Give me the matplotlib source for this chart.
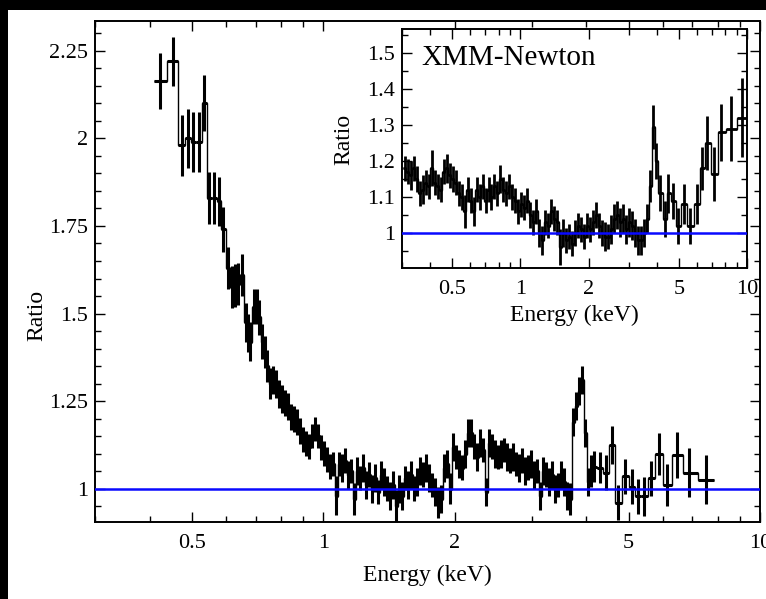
import numpy as np
import matplotlib.pyplot as plt
from matplotlib.ticker import FixedLocator, LogLocator, NullFormatter, MultipleLocator, FuncFormatter
from matplotlib.patches import Rectangle

plt.rcParams['font.family'] = ['Liberation Serif', 'DejaVu Serif']

# ---- main panel: ratio vs energy (keV) ----
main_energy = [
    0.4236, 0.4536, 0.4758, 0.4910, 0.5041, 0.5203, 0.5342, 0.5484, 0.5631, 0.5781,
    0.5904, 0.6063, 0.6193, 0.6291, 0.6392, 0.6528, 0.6667, 0.6738, 0.6808, 0.6953,
    0.7064, 0.7139, 0.7253, 0.7368, 0.7446, 0.7565, 0.7685, 0.7807,
    0.7931, 0.8057, 0.8186, 0.8316, 0.8448, 0.8583, 0.8719, 0.8858, 0.8999, 0.9143,
    0.9289, 0.9437, 0.9587, 0.9740, 0.9895, 1.0053, 1.0213, 1.0375, 1.0541, 1.0709,
    1.088, 1.105, 1.123, 1.141, 1.159, 1.177, 1.196, 1.215, 1.235, 1.254,
    1.274, 1.295, 1.315, 1.336, 1.357, 1.379, 1.401, 1.423, 1.446, 1.469,
    1.492, 1.516, 1.540, 1.565, 1.590, 1.615, 1.641, 1.667, 1.693, 1.720,
    1.748, 1.776, 1.804, 1.833, 1.862,
    1.892, 1.922, 1.953, 1.984, 2.015, 2.047, 2.080, 2.113, 2.147, 2.181,
    2.216, 2.251, 2.287, 2.323, 2.360, 2.398, 2.436, 2.475, 2.514, 2.554,
    2.595, 2.636, 2.678, 2.721, 2.764, 2.808, 2.853, 2.899, 2.945, 2.992,
    3.039, 3.088, 3.137, 3.187, 3.237, 3.289, 3.342, 3.395, 3.449, 3.504,
    3.560, 3.616, 3.674, 3.733, 3.793, 3.853, 3.914, 3.977, 4.040, 4.105,
    4.170, 4.304, 4.442, 4.585, 4.732, 4.911, 5.096, 5.259, 5.428, 5.630,
    5.873, 6.125, 6.458, 6.880, 7.521,
]
main_ratio = [
    2.165, 2.22, 1.98, 2.00, 1.99, 1.99, 2.10, 1.83, 1.83, 1.82,
    1.74, 1.63, 1.575, 1.58, 1.585, 1.61, 1.475, 1.445, 1.42, 1.52,
    1.52, 1.49, 1.42, 1.39, 1.35, 1.30, 1.31, 1.30,
    1.27, 1.255, 1.245, 1.235, 1.205, 1.20, 1.19, 1.165, 1.14, 1.13,
    1.12, 1.15, 1.17, 1.15, 1.117, 1.10, 1.083, 1.063, 1.07, 0.98,
    1.07, 1.06, 1.08, 1.04, 1.05, 0.97, 1.05, 1.03, 1.06, 1.01,
    1.04, 1.00, 1.03, 0.99, 1.04, 1.02, 1.00, 0.98, 1.01, 0.95,
    1.00, 0.98, 1.03, 1.01, 1.04, 1.00, 1.02, 1.05, 1.04, 1.06,
    1.03, 1.01, 0.99, 0.96, 0.97,
    1.06, 1.07, 1.00, 1.12, 1.09, 1.07, 1.06, 1.10, 1.16, 1.16,
    1.12, 1.09, 1.13, 1.11, 0.99, 1.13, 1.12, 1.10, 1.09, 1.10,
    1.11, 1.09, 1.08, 1.09, 1.07, 1.06, 1.08, 1.05, 1.06, 1.07,
    1.04, 1.05, 0.98, 1.05, 1.04, 1.02, 1.04, 1.00, 1.01, 1.04,
    1.02, 0.98, 0.97, 1.19, 1.235, 1.28, 1.31, 1.16, 1.02, 1.05,
    1.063, 1.06, 1.045, 1.125, 0.96, 1.035, 1.005, 0.978, 0.978, 1.03,
    1.10, 1.01, 1.097, 1.045, 1.026,
]
main_err = [
    0.08, 0.07, 0.086, 0.085, 0.085, 0.085, 0.08, 0.075, 0.075, 0.07,
    0.065, 0.06, 0.06, 0.06, 0.06, 0.06, 0.055, 0.055, 0.055, 0.05,
    0.05, 0.05, 0.05, 0.045, 0.045, 0.045, 0.04, 0.04,
    0.04, 0.04, 0.038, 0.038, 0.038, 0.037, 0.037, 0.036, 0.036, 0.036,
    0.035, 0.035, 0.035, 0.035, 0.035, 0.035, 0.035, 0.035, 0.035, 0.055,
    0.035, 0.04, 0.035, 0.04, 0.035, 0.045, 0.04, 0.035, 0.04, 0.04,
    0.035, 0.04, 0.04, 0.035, 0.04, 0.04, 0.035, 0.04, 0.04, 0.045,
    0.04, 0.04, 0.035, 0.04, 0.04, 0.035, 0.04, 0.04, 0.035, 0.04,
    0.04, 0.035, 0.04, 0.045, 0.04,
    0.04, 0.04, 0.045, 0.04, 0.035, 0.04, 0.035, 0.04, 0.04, 0.04,
    0.035, 0.04, 0.04, 0.035, 0.04, 0.04, 0.035, 0.04, 0.035, 0.04,
    0.035, 0.04, 0.035, 0.04, 0.035, 0.04, 0.035, 0.04, 0.035, 0.04,
    0.04, 0.035, 0.04, 0.04, 0.035, 0.04, 0.04, 0.04, 0.035, 0.04,
    0.04, 0.04, 0.045, 0.04, 0.04, 0.04, 0.04, 0.04, 0.04, 0.045,
    0.045, 0.045, 0.05, 0.055, 0.05, 0.05, 0.05, 0.05, 0.055, 0.05,
    0.06, 0.06, 0.065, 0.07, 0.07,
]

# ---- inset: XMM-Newton ratio ----
xmm_energy = [
    0.3083, 0.3178, 0.3277, 0.3378, 0.3482, 0.3590, 0.3701, 0.3815, 0.3933, 0.4055,
    0.4180, 0.4309, 0.4442, 0.4579, 0.4721, 0.4866, 0.5017, 0.5172, 0.5331, 0.5496,
    0.5666, 0.5841, 0.6021, 0.6207, 0.6399, 0.6596, 0.6800, 0.7010, 0.7227, 0.7450,
    0.7680, 0.7917, 0.8162, 0.8415, 0.8675, 0.8943, 0.9221, 0.9506, 0.9799, 1.010,
    1.041, 1.074, 1.107, 1.141, 1.176, 1.213, 1.250, 1.289, 1.328, 1.370,
    1.412, 1.455, 1.500, 1.547, 1.595, 1.644, 1.695, 1.747, 1.801, 1.857,
    1.914, 1.973, 2.034, 2.097, 2.162, 2.228, 2.297, 2.368, 2.442, 2.517,
    2.595, 2.675, 2.758, 2.843, 2.931, 3.021, 3.115, 3.211, 3.311, 3.412,
    3.518, 3.627, 3.739, 3.854, 3.973,
    4.14, 4.35, 4.49, 4.72, 4.966, 5.28, 5.61, 6.02, 6.34, 6.67,
    7.15, 7.68, 8.50, 9.506,
]
xmm_ratio = [
    1.18, 1.17, 1.16, 1.18, 1.15, 1.11, 1.12, 1.14, 1.13, 1.18,
    1.14, 1.13, 1.12, 1.17, 1.18, 1.16, 1.15, 1.14, 1.11, 1.10,
    1.06, 1.12, 1.09, 1.06, 1.12, 1.10, 1.13, 1.09, 1.12, 1.10,
    1.13, 1.11, 1.15, 1.12, 1.11, 1.13, 1.10, 1.09, 1.06, 1.08,
    1.07, 1.09, 1.05, 1.03, 1.06, 1.00, 0.98, 1.03, 1.02, 1.06,
    1.04, 1.03, 0.96, 1.00, 0.98, 0.99, 0.97, 1.00, 1.02, 1.01,
    0.99, 1.02, 1.01, 1.03, 1.05, 1.02, 1.00, 0.99, 0.99, 1.01,
    1.04, 1.05, 1.03, 1.04, 1.01, 1.03, 1.02, 1.00, 0.98, 0.98,
    1.00, 1.04, 1.13, 1.295, 1.20,
    1.11, 1.04, 1.11, 1.09, 1.02, 1.08, 1.02, 1.08, 1.18, 1.25,
    1.165, 1.28, 1.29, 1.32,
]
xmm_err = [
    0.035, 0.035, 0.04, 0.035, 0.035, 0.035, 0.04, 0.035, 0.035, 0.05,
    0.035, 0.035, 0.035, 0.035, 0.04, 0.035, 0.035, 0.035, 0.035, 0.035,
    0.045, 0.035, 0.035, 0.04, 0.035, 0.035, 0.035, 0.035, 0.035, 0.035,
    0.035, 0.035, 0.04, 0.035, 0.035, 0.035, 0.035, 0.035, 0.035, 0.035,
    0.035, 0.035, 0.035, 0.035, 0.035, 0.04, 0.04, 0.035, 0.035, 0.035,
    0.035, 0.035, 0.05, 0.04, 0.035, 0.035, 0.035, 0.035, 0.035, 0.035,
    0.035, 0.035, 0.035, 0.035, 0.035, 0.035, 0.035, 0.04, 0.035, 0.04,
    0.04, 0.04, 0.04, 0.04, 0.04, 0.04, 0.04, 0.04, 0.04, 0.04,
    0.04, 0.04, 0.045, 0.06, 0.05,
    0.05, 0.05, 0.055, 0.05, 0.05, 0.055, 0.05, 0.055, 0.06, 0.075,
    0.075, 0.08, 0.09, 0.11,
]


def bin_edges(centers):
    # geometric midpoints between neighbouring channels
    c = np.asarray(centers)
    mid = np.sqrt(c[1:] * c[:-1])
    first = c[0] ** 2 / mid[0]
    last = c[-1] ** 2 / mid[-1]
    return np.concatenate([[first], mid, [last]])


def draw_spectrum(ax, energy, ratio, err, lw_err):
    e = np.asarray(energy)
    edges = bin_edges(e)
    ax.stairs(ratio, edges, color='black', lw=1.0, baseline=None, zorder=2)
    ax.errorbar(e, ratio, yerr=err, xerr=[e - edges[:-1], edges[1:] - e],
                fmt='none', ecolor='black', elinewidth=lw_err, capsize=0, zorder=3)
    ax.axhline(1.0, color='#0a0aff', lw=1.8, zorder=4)


def style_axes(ax, fs):
    ax.set_xscale('log')
    ax.set_xlim(0.3, 10)
    ax.xaxis.set_major_locator(FixedLocator([0.5, 1, 2, 5, 10]))
    ax.xaxis.set_major_formatter(FuncFormatter(lambda v, p: '%g' % v))
    ax.xaxis.set_minor_locator(LogLocator(base=10, subs=np.arange(1, 10)))
    ax.xaxis.set_minor_formatter(NullFormatter())
    ax.yaxis.set_major_formatter(FuncFormatter(lambda v, p: '%g' % round(v, 2)))
    ax.tick_params(which='both', direction='in', top=True, right=True, labelsize=fs, width=1.0)
    ax.tick_params(which='major', length=7)
    ax.tick_params(which='minor', length=4)
    ax.tick_params(axis='x', which='major', pad=9)
    ax.tick_params(axis='y', which='major', pad=5)
    for s in ax.spines.values():
        s.set_linewidth(1.4)


fig = plt.figure(figsize=(7.66, 5.99), dpi=100)
fig.patch.set_facecolor('black')
fig.patches.append(Rectangle((8 / 766, 0), 758 / 766, 589 / 599, transform=fig.transFigure,
                             facecolor='white', edgecolor='none', zorder=-10))

ax = fig.add_axes([95 / 766, 77 / 599, 665 / 766, 501 / 599])
draw_spectrum(ax, main_energy, main_ratio, main_err, 2.2)
style_axes(ax, 16)
ax.set_ylim(0.905, 2.335)
ax.yaxis.set_major_locator(MultipleLocator(0.25))
ax.yaxis.set_minor_locator(MultipleLocator(0.05))
ax.set_xlabel('Energy (keV)', fontsize=17, labelpad=8)
ax.set_ylabel('Ratio', fontsize=17)
ax.yaxis.set_label_coords(-0.072, 0.413)

ins = fig.add_axes([402 / 766, 331 / 599, 345 / 766, 239 / 599])
draw_spectrum(ins, xmm_energy, xmm_ratio, xmm_err, 2.0)
style_axes(ins, 16)
ins.set_ylim(0.903, 1.567)
ins.yaxis.set_major_locator(MultipleLocator(0.1))
ins.yaxis.set_minor_locator(MultipleLocator(0.05))
ins.set_xlabel('Energy (keV)', fontsize=17, labelpad=4)
ins.set_ylabel('Ratio', fontsize=17)
ins.yaxis.set_label_coords(-0.139, 0.54)
ins.text(0.055, 0.935, 'XMM-Newton', transform=ins.transAxes, fontsize=21,
         ha='left', va='top')

fig.savefig('out.png', dpi=100, facecolor=fig.get_facecolor())
